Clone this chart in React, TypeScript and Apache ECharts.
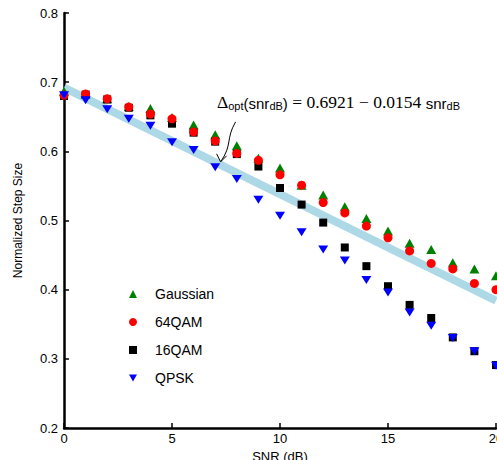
import React, { useEffect, useRef } from "react";
import * as echarts from "echarts";

const snr = [0, 1, 2, 3, 4, 5, 6, 7, 8, 9, 10, 11, 12, 13, 14, 15, 16, 17, 18, 19, 20];
const gaussian = [0.687, 0.683, 0.676, 0.665, 0.662, 0.649, 0.638, 0.624, 0.608, 0.590, 0.576, 0.551, 0.537, 0.520, 0.503, 0.485, 0.467, 0.458, 0.439, 0.430, 0.420];
const qam64 = [0.681, 0.683, 0.676, 0.664, 0.654, 0.647, 0.628, 0.615, 0.597, 0.587, 0.566, 0.551, 0.526, 0.511, 0.492, 0.475, 0.456, 0.438, 0.430, 0.409, 0.400];
const qam16 = [0.680, 0.682, 0.675, 0.663, 0.652, 0.640, 0.627, 0.614, 0.596, 0.578, 0.547, 0.523, 0.497, 0.461, 0.434, 0.405, 0.378, 0.359, 0.331, 0.311, 0.291];
const qpsk = [0.681, 0.674, 0.661, 0.647, 0.637, 0.613, 0.602, 0.577, 0.560, 0.530, 0.507, 0.483, 0.458, 0.442, 0.414, 0.396, 0.367, 0.348, 0.330, 0.311, 0.290];
const fitLine = [[0, 0.6921], [20, 0.3841]];
const xTicks = [0, 5, 10, 15, 20];
const yTicks = [0.2, 0.3, 0.4, 0.5, 0.6, 0.7, 0.8];

const pair = (ys: number[]) => snr.map((x, i) => [x, ys[i]]);
const downTri = "path://M0,0 L10,0 L5,9 Z";

export default function App() {
  const ref = useRef<HTMLDivElement>(null);
  useEffect(() => {
    const chart = echarts.init(ref.current!, undefined, { renderer: "svg" });
    const font = "Liberation Sans, Arial, sans-serif";
    chart.setOption({
      animation: false,
      grid: { left: 64, top: 13, right: 24, bottom: 32, containLabel: false, outerBoundsMode: "none" },
      xAxis: {
        type: "value",
        min: xTicks[0],
        max: xTicks[xTicks.length - 1],
        interval: 5,
        name: "SNR (dB)",
        nameLocation: "middle",
        nameGap: 17,
        nameTextStyle: { fontFamily: font, fontSize: 13, color: "#000" },
        axisLine: { show: true, lineStyle: { color: "#000", width: 2.5 } },
        axisTick: { show: true, inside: true, length: 5, lineStyle: { color: "#000", width: 1.5 } },
        axisLabel: { fontFamily: font, fontSize: 13, color: "#000", margin: 4 },
        splitLine: { show: false },
      },
      yAxis: {
        type: "value",
        min: yTicks[0],
        max: yTicks[yTicks.length - 1],
        interval: 0.1,
        name: "Normalized Step Size",
        nameLocation: "middle",
        nameGap: 40,
        nameTextStyle: { fontFamily: font, fontSize: 12, color: "#000" },
        axisLine: { show: true, lineStyle: { color: "#000", width: 2.5 } },
        axisTick: { show: true, inside: true, length: 5, lineStyle: { color: "#000", width: 1.5 } },
        axisLabel: { fontFamily: font, fontSize: 13, color: "#000", margin: 6, formatter: (v: number) => v.toFixed(1) },
        splitLine: { show: false },
      },
      legend: {
        orient: "vertical",
        left: 129,
        top: 287,
        padding: 0,
        itemWidth: 8,
        itemHeight: 8,
        itemGap: 14,
        textStyle: { fontFamily: font, fontSize: 14, color: "#000", padding: [0, 0, 0, 13], lineHeight: 14 },
        data: ["Gaussian", "64QAM", "16QAM", "QPSK"],
      },
      series: [
        {
          name: "fit",
          type: "line",
          data: fitLine,
          symbol: "none",
          lineStyle: { color: "#add8e6", width: 8 },
          z: 1,
          silent: true,
        },
        {
          name: "Gaussian",
          type: "scatter",
          data: pair(gaussian),
          symbol: "triangle",
          symbolSize: [10, 9],
          itemStyle: { color: "#008000", opacity: 1 },
          z: 2,
        },
        {
          name: "64QAM",
          type: "scatter",
          data: pair(qam64),
          symbol: "circle",
          symbolSize: 9,
          itemStyle: { color: "#ff0000", opacity: 1 },
          z: 3,
        },
        {
          name: "16QAM",
          type: "scatter",
          data: pair(qam16),
          symbol: "rect",
          symbolSize: 8,
          itemStyle: { color: "#000000", opacity: 1 },
          z: 2,
        },
        {
          name: "QPSK",
          type: "scatter",
          data: pair(qpsk),
          symbol: downTri,
          symbolSize: [10, 8],
          itemStyle: { color: "#0000ff", opacity: 1 },
          z: 4,
        },
      ],
    });

    const target = chart.convertToPixel({ gridIndex: 0 }, [7.25, 0.6921 - 0.0154 * 7.25]) as number[];
    const tx = target[0];
    const ty = target[1] - 3;
    chart.setOption({
      graphic: [
        {
          type: "text",
          left: 217,
          top: 93,
          style: {
            text: "{m|Δ}{s|opt}{n|(snr}{s|dB}{n|)}{m| = 0.6921 − 0.0154 }{n|snr}{s|dB}",
            rich: {
              m: { fontFamily: "Liberation Serif, serif", fontSize: 17.5, fill: "#000", verticalAlign: "bottom" },
              n: { fontFamily: font, fontSize: 15, fill: "#000", verticalAlign: "bottom" },
              s: { fontFamily: font, fontSize: 11, fill: "#000", padding: [7, 0, 0, 0], verticalAlign: "bottom" },
            },
          },
        },
        {
          type: "bezierCurve",
          shape: { x1: tx + 15, y1: ty - 40, cpx1: tx + 5, cpy1: ty - 23, cpx2: tx + 12, cpy2: ty - 17, x2: tx, y2: ty },
          style: { stroke: "#000", lineWidth: 1, fill: null },
          z: 10,
        },
        {
          type: "polyline",
          shape: { points: [[tx - 4, ty - 8], [tx, ty], [tx + 6, ty - 6]] },
          style: { stroke: "#000", lineWidth: 1, fill: null },
          z: 10,
        },
      ],
    });
    return () => chart.dispose();
  }, []);
  return (
    <div style={{ position: "fixed", left: 0, top: 0, width: 497, height: 460, overflow: "hidden", background: "#fff" }}>
      <div ref={ref} style={{ width: 520, height: 460 }} />
    </div>
  );
}
